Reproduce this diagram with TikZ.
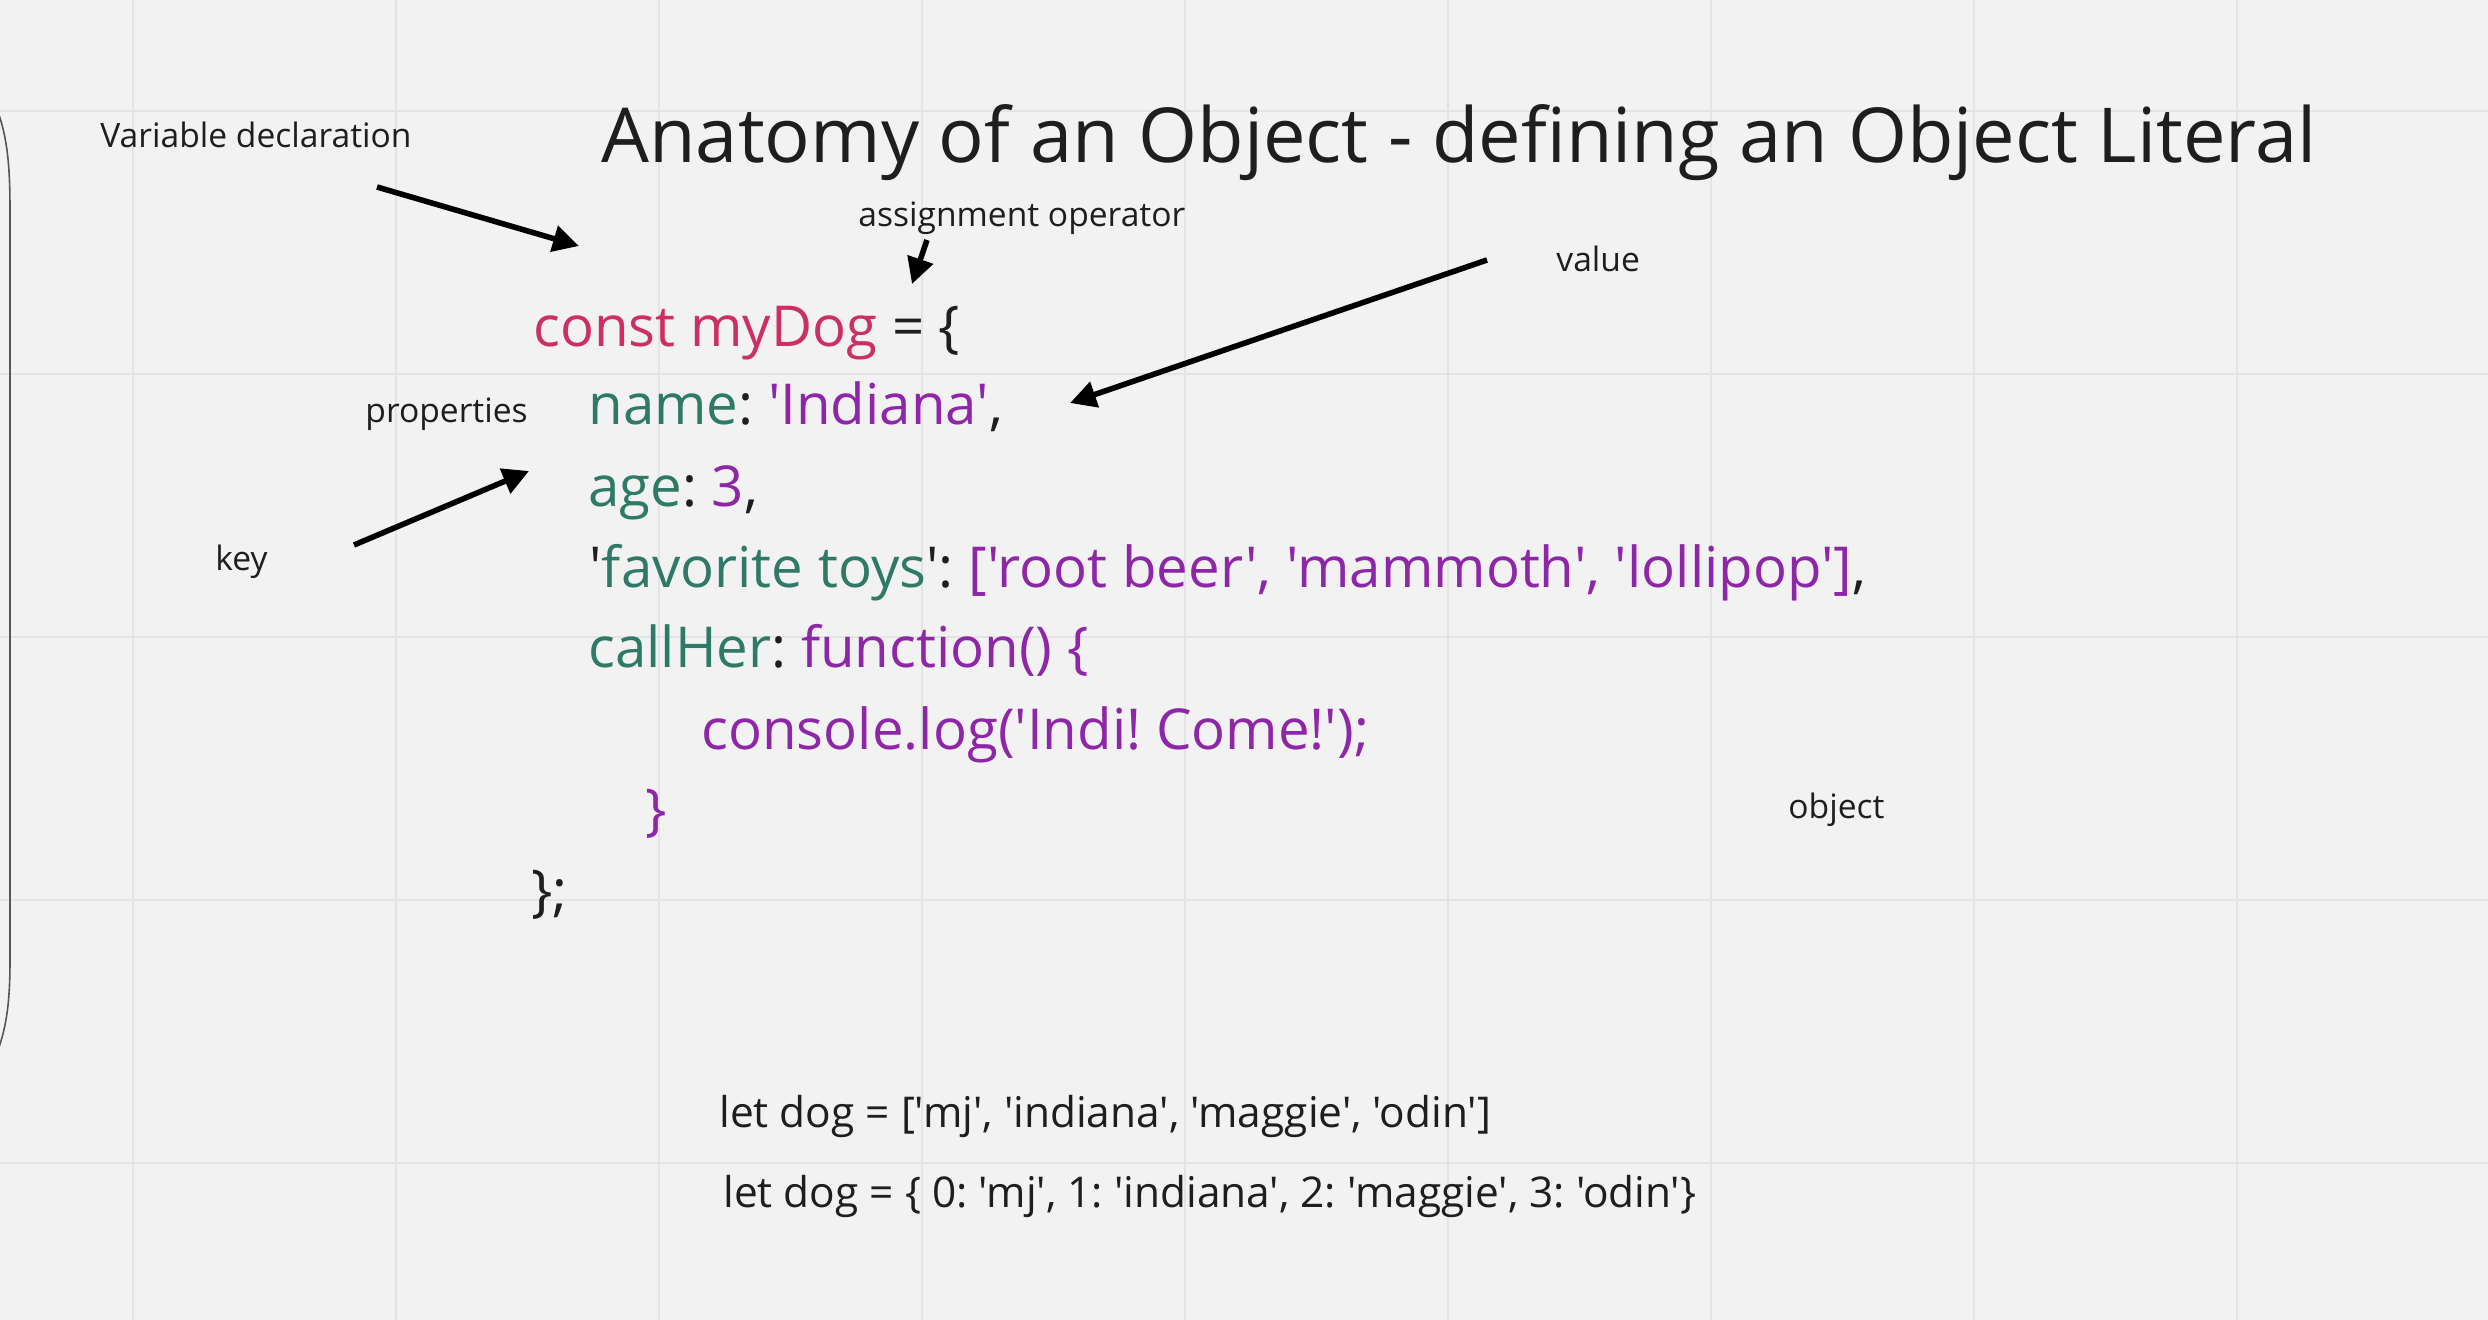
\documentclass[tikz,border=0pt]{standalone}
\usepackage{fontspec}
\setmainfont{Open Sans}[Ligatures=TeXOff]
\usetikzlibrary{arrows.meta}
\definecolor{bg}{HTML}{F2F2F2}
\definecolor{gridc}{HTML}{E4E4E4}
\definecolor{kw}{HTML}{CC2F62}
\definecolor{keyc}{HTML}{2F7A66}
\definecolor{valc}{HTML}{8E26A8}
\definecolor{ink}{HTML}{1E1E1E}
\frenchspacing
\begin{document}
\begin{tikzpicture}[x=0.5pt,y=-0.5pt,
  lbl/.style={anchor=base west, inner sep=0, text=ink, font=\fontsize{16.8}{20}\selectfont},
  code/.style={anchor=base west, inner sep=0, text=ink, font=\fontsize{28.2}{34}\selectfont},
  bot/.style={anchor=base west, inner sep=0, text=ink, font=\fontsize{21.2}{26}\selectfont},
  pointer/.style={line width=2.8pt, draw=black, -{Triangle[length=13pt,width=13pt]}},
  gridline/.style={draw=gridc, line width=1pt}]
\fill[bg] (0,0) rectangle (2488,1320);
\useasboundingbox (0,0) rectangle (2488,1320);
\foreach \x in {133,396,659,922,1185,1448,1711,1974,2237} \draw[gridline] (\x,0) -- (\x,1320);
\foreach \y in {111,374,637,900,1163} \draw[gridline] (0,\y) -- (2488,\y);
% left frame edge
\draw[ink!75, line width=0.8pt] (-2,112) .. controls (8,140) and (10,170) .. (10,210) -- (10,960) .. controls (10,1000) and (7,1025) .. (-2,1050);
% title
\node[anchor=base west, inner sep=0, text=ink, font=\fontsize{37.9}{46}\selectfont] (title) at (601,163) {Anatomy of an Object - defining an Object Literal};
% code
\node[code] (l1) at (533,347) {\textcolor{kw}{const myDog} = \{};
\node[code] (l2) at (588,425) {\textcolor{keyc}{name}: \textcolor{valc}{'Indiana'},};
\node[code] (l3) at (588,507) {\textcolor{keyc}{age}: \textcolor{valc}{3},};
\node[code] (l4) at (589,587) {'\textcolor{keyc}{favorite toys}': \textcolor{valc}{['root beer', 'mammoth', 'lollipop']},};
\node[code] (l5) at (588,667) {\textcolor{keyc}{callHer}: \textcolor{valc}{function() \{}};
\node[code, text=valc] (l6) at (701,749) {console.log('Indi! Come!');};
\node[code, text=valc] (l7) at (645,829) {\}};
\node[code] (l8) at (531,910) {\};};
% labels
\node[lbl] (vd) at (100,148) {Variable declaration};
\node[lbl] (ao) at (858,227) {assignment operator};
\node[lbl] (val) at (1556,272) {value};
\node[lbl] (props) at (365,423) {properties};
\node[lbl] (key) at (215,570) {key};
\node[lbl] (obj) at (1788,818) {object};
% bottom
\node[bot] (arr) at (719,1127) {let dog = ['mj', 'indiana', 'maggie', 'odin']};
\node[bot] (objl) at (723,1207) {let dog = \{ 0: 'mj', 1: 'indiana', 2: 'maggie', 3: 'odin'\}};
% arrows
\coordinate (vdS) at (377,187); \coordinate (vdE) at (579,246);
\coordinate (aoS) at (927,240); \coordinate (aoE) at (912,284);
\coordinate (valS) at (1487,260); \coordinate (valE) at (1070,403);
\coordinate (keyS) at (354,545); \coordinate (keyE) at (529,471);
\draw[pointer] (vdS) -- (vdE);
\draw[pointer] (aoS) -- (aoE);
\draw[pointer] (valS) -- (valE);
\draw[pointer] (keyS) -- (keyE);
\end{tikzpicture}
\end{document}
